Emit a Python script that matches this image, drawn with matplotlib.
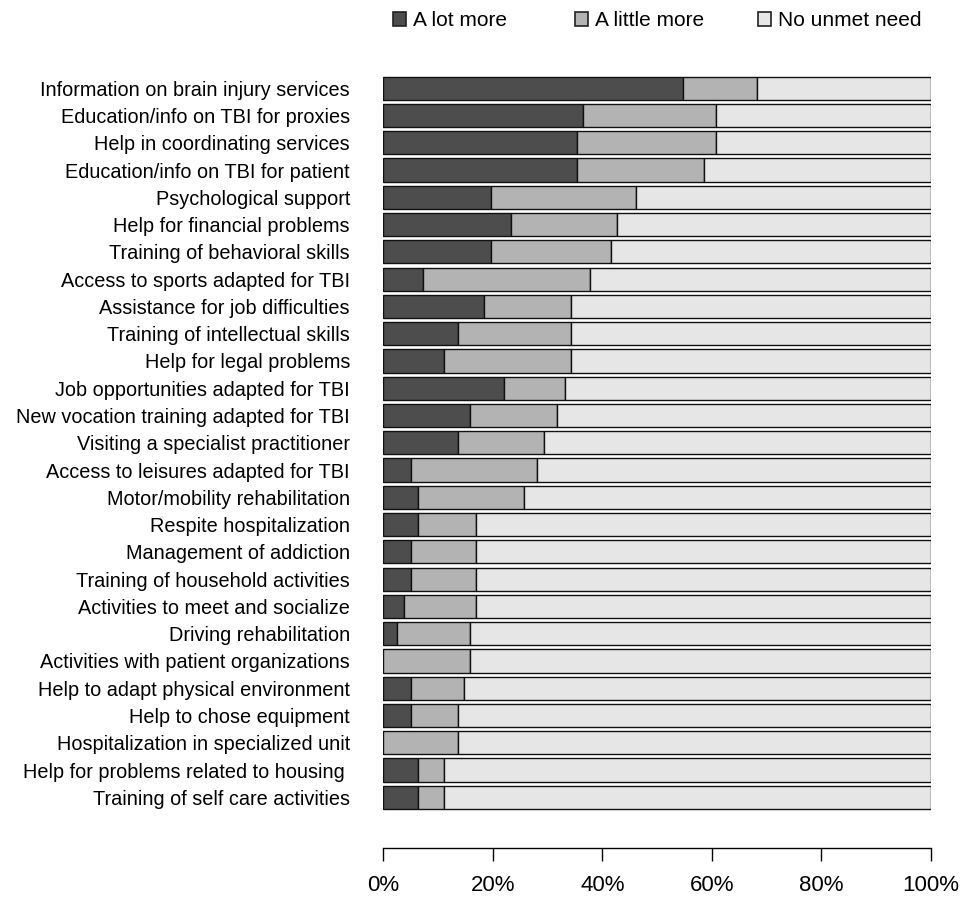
import matplotlib
matplotlib.use("Agg")
import matplotlib.pyplot as plt
from matplotlib.patches import Patch
import numpy as np

plt.rcParams['font.family'] = ['Liberation Sans', 'DejaVu Sans']

categories = [
    "Information on brain injury services",
    "Education/info on TBI for proxies",
    "Help in coordinating services",
    "Education/info on TBI for patient",
    "Psychological support",
    "Help for financial problems",
    "Training of behavioral skills",
    "Access to sports adapted for TBI",
    "Assistance for job difficulties",
    "Training of intellectual skills",
    "Help for legal problems",
    "Job opportunities adapted for TBI",
    "New vocation training adapted for TBI",
    "Visiting a specialist practitioner",
    "Access to leisures adapted for TBI",
    "Motor/mobility rehabilitation",
    "Respite hospitalization",
    "Management of addiction",
    "Training of household activities",
    "Activities to meet and socialize",
    "Driving rehabilitation",
    "Activities with patient organizations",
    "Help to adapt physical environment",
    "Help to chose equipment",
    "Hospitalization in specialized unit",
    "Help for problems related to housing ",
    "Training of self care activities",
]

# percentages
a_lot_more = [54.8, 36.5, 35.4, 35.4, 19.6, 23.3, 19.6, 7.3, 18.4, 13.6, 11.1, 22.1, 15.8,
              13.6, 5.0, 6.4, 6.4, 5.0, 5.0, 3.8, 2.5, 0.0, 5.0, 5.0, 0.0, 6.3, 6.3]
cumulative_little = [68.3, 60.8, 60.8, 58.6, 46.2, 42.7, 41.5, 37.8, 34.2, 34.2, 34.2, 33.2, 31.8,
                     29.3, 28.0, 25.6, 17.0, 17.0, 17.0, 17.0, 15.8, 15.8, 14.8, 13.6, 13.6, 11.0, 11.0]
a_little_more = [c - a for c, a in zip(cumulative_little, a_lot_more)]
no_unmet = [100 - c for c in cumulative_little]

series_names = ["A lot more", "A little more", "No unmet need"]
colors = ["#4d4d4d", "#b3b3b3", "#e6e6e6"]
tick_vals = [0, 20, 40, 60, 80, 100]
tick_labels = ["0%", "20%", "40%", "60%", "80%", "100%"]

W, H = 962, 899
fig = plt.figure(figsize=(W / 100, H / 100), dpi=100)
ax_left, ax_right = 383.3 / W, 931.0 / W
ax_top, ax_bot = 70 / H, 815 / H
ax = fig.add_axes([ax_left, 1 - ax_bot, ax_right - ax_left, ax_bot - ax_top])

y = np.arange(len(categories))
left = np.zeros(len(categories))
for vals, col in zip([a_lot_more, a_little_more, no_unmet], colors):
    ax.barh(y, vals, left=left, height=0.85, color=col, edgecolor="#111111", linewidth=1.0)
    left = left + np.array(vals)

ax.set_xlim(0, 100)
ax.set_ylim(26.65, -0.67)
ax.set_yticks(y)
ax.set_yticklabels(categories)
ax.tick_params(axis='y', length=0, pad=24, labelsize=14.3)
ax.set_xticks(tick_vals)
ax.set_xticklabels(tick_labels)
ax.tick_params(axis='x', length=9.4, width=1, direction='out', pad=10, labelsize=16)
for s in ['top', 'right', 'left']:
    ax.spines[s].set_visible(False)
ax.spines['bottom'].set_position(('outward', 24))
ax.spines['bottom'].set_linewidth(1)

legend_x = [393, 575, 758]
for c, n, lx in zip(colors, series_names, legend_x):
    h = Patch(facecolor=c, edgecolor="#222222", linewidth=1.2, label=n)
    fig.legend(handles=[h], loc='center left', bbox_to_anchor=(lx / W, 1 - 21 / H),
               frameon=False, fontsize=15, handlelength=0.62, handleheight=0.62,
               handletextpad=0.33, borderaxespad=0, borderpad=0)

fig.savefig("out.png", dpi=100)
